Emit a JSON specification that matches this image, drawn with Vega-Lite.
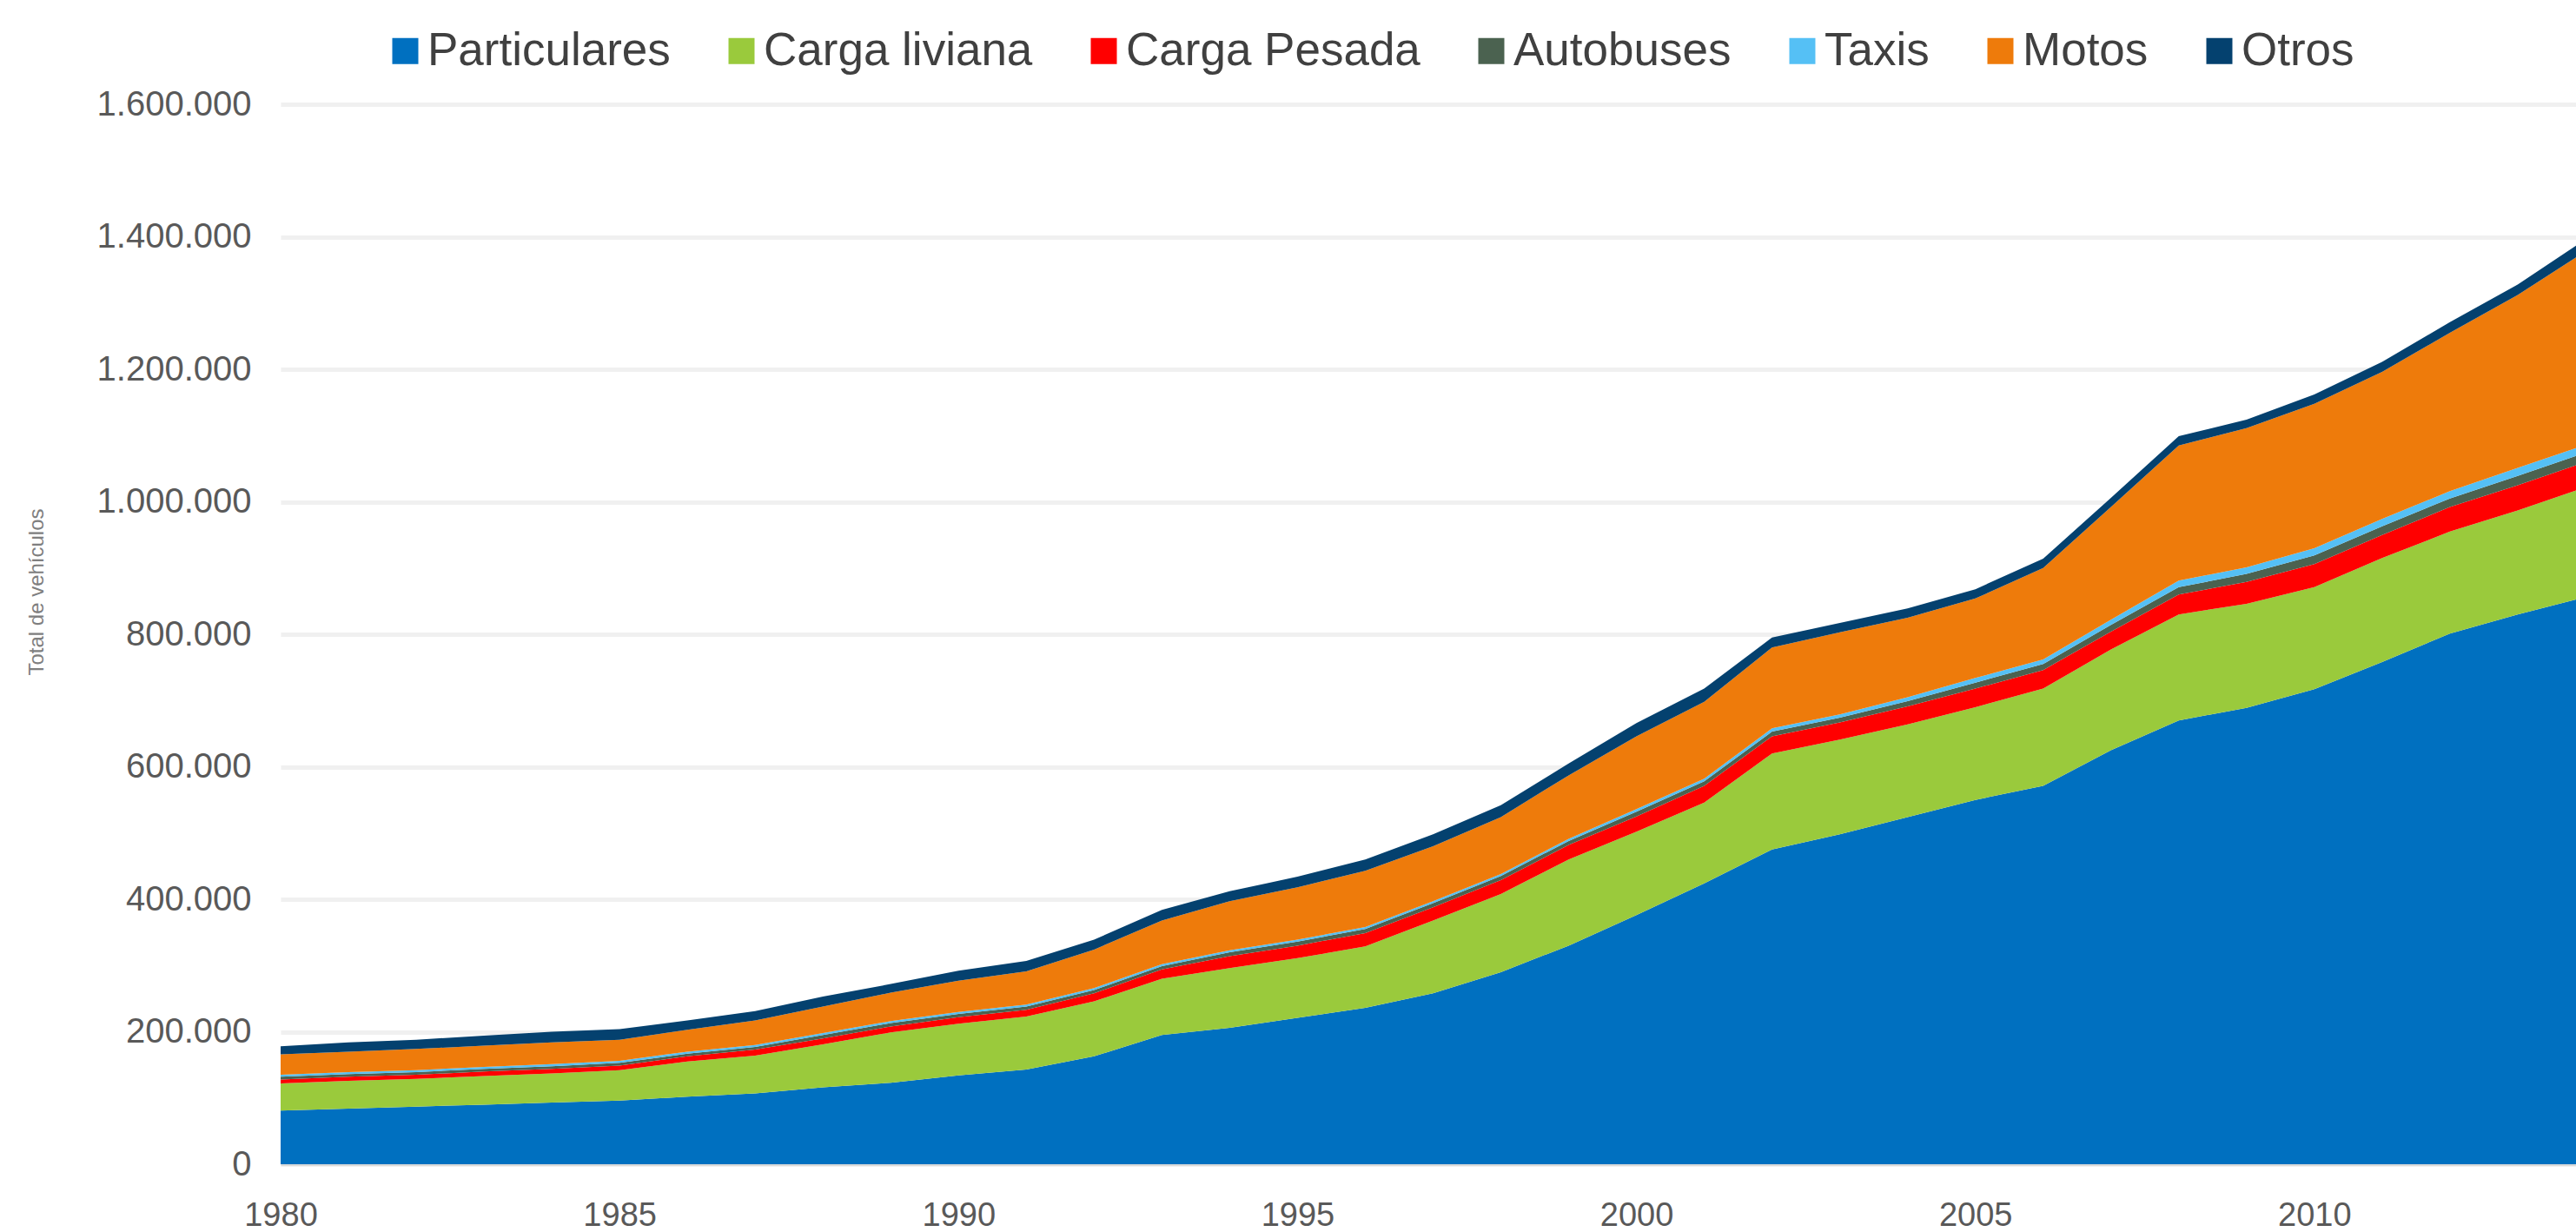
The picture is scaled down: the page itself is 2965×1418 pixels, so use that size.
{
  "$schema": "https://vega.github.io/schema/vega-lite/v6.json",
  "width": 2642,
  "height": 1220,
  "autosize": {"type": "none"},
  "padding": {"left": 323, "top": 120, "right": 0, "bottom": 78},
  "background": "white",
  "data": {
    "values": [
      {"year": 1980, "Particulares": 81000, "Carga liviana": 41000, "Carga Pesada": 6000, "Autobuses": 4000, "Taxis": 3000, "Motos": 31000, "Otros": 12000},
      {"year": 1981, "Particulares": 84000, "Carga liviana": 42000, "Carga Pesada": 6000, "Autobuses": 4000, "Taxis": 3000, "Motos": 31000, "Otros": 14000},
      {"year": 1982, "Particulares": 87000, "Carga liviana": 42000, "Carga Pesada": 6000, "Autobuses": 4000, "Taxis": 3000, "Motos": 32000, "Otros": 14000},
      {"year": 1983, "Particulares": 90000, "Carga liviana": 43000, "Carga Pesada": 7000, "Autobuses": 4000, "Taxis": 3000, "Motos": 32000, "Otros": 15000},
      {"year": 1984, "Particulares": 93000, "Carga liviana": 44000, "Carga Pesada": 7000, "Autobuses": 4000, "Taxis": 3000, "Motos": 33000, "Otros": 16000},
      {"year": 1985, "Particulares": 96000, "Carga liviana": 46000, "Carga Pesada": 7000, "Autobuses": 4000, "Taxis": 3000, "Motos": 32000, "Otros": 16000},
      {"year": 1986, "Particulares": 102000, "Carga liviana": 53000, "Carga Pesada": 8000, "Autobuses": 4000, "Taxis": 3000, "Motos": 33000, "Otros": 14000},
      {"year": 1987, "Particulares": 107000, "Carga liviana": 57000, "Carga Pesada": 9000, "Autobuses": 4000, "Taxis": 3000, "Motos": 37000, "Otros": 14000},
      {"year": 1988, "Particulares": 116000, "Carga liviana": 65000, "Carga Pesada": 9000, "Autobuses": 5000, "Taxis": 3000, "Motos": 40000, "Otros": 15000},
      {"year": 1989, "Particulares": 123000, "Carga liviana": 76000, "Carga Pesada": 9000, "Autobuses": 5000, "Taxis": 3000, "Motos": 43000, "Otros": 13000},
      {"year": 1990, "Particulares": 134000, "Carga liviana": 78000, "Carga Pesada": 10000, "Autobuses": 5000, "Taxis": 3000, "Motos": 47000, "Otros": 15000},
      {"year": 1991, "Particulares": 143000, "Carga liviana": 80000, "Carga Pesada": 10000, "Autobuses": 5000, "Taxis": 3000, "Motos": 50000, "Otros": 16000},
      {"year": 1992, "Particulares": 163000, "Carga liviana": 83000, "Carga Pesada": 12000, "Autobuses": 5000, "Taxis": 3000, "Motos": 58000, "Otros": 15000},
      {"year": 1993, "Particulares": 195000, "Carga liviana": 85000, "Carga Pesada": 14000, "Autobuses": 5000, "Taxis": 3000, "Motos": 66000, "Otros": 16000},
      {"year": 1994, "Particulares": 206000, "Carga liviana": 90000, "Carga Pesada": 18000, "Autobuses": 6000, "Taxis": 3000, "Motos": 74000, "Otros": 15000},
      {"year": 1995, "Particulares": 221000, "Carga liviana": 90000, "Carga Pesada": 19000, "Autobuses": 6000, "Taxis": 3000, "Motos": 79000, "Otros": 16000},
      {"year": 1996, "Particulares": 236000, "Carga liviana": 93000, "Carga Pesada": 20000, "Autobuses": 6000, "Taxis": 3000, "Motos": 85000, "Otros": 17000},
      {"year": 1997, "Particulares": 258000, "Carga liviana": 110000, "Carga Pesada": 20000, "Autobuses": 6000, "Taxis": 3000, "Motos": 83000, "Otros": 18000},
      {"year": 1998, "Particulares": 290000, "Carga liviana": 118000, "Carga Pesada": 21000, "Autobuses": 6000, "Taxis": 3000, "Motos": 86000, "Otros": 18000},
      {"year": 1999, "Particulares": 330000, "Carga liviana": 130000, "Carga Pesada": 22000, "Autobuses": 6000, "Taxis": 3000, "Motos": 96000, "Otros": 18000},
      {"year": 2000, "Particulares": 376000, "Carga liviana": 126000, "Carga Pesada": 23000, "Autobuses": 7000, "Taxis": 4000, "Motos": 110000, "Otros": 20000},
      {"year": 2001, "Particulares": 424000, "Carga liviana": 122000, "Carga Pesada": 25000, "Autobuses": 7000, "Taxis": 4000, "Motos": 116000, "Otros": 20000},
      {"year": 2002, "Particulares": 475000, "Carga liviana": 145000, "Carga Pesada": 26000, "Autobuses": 7000, "Taxis": 5000, "Motos": 122000, "Otros": 15000},
      {"year": 2003, "Particulares": 498000, "Carga liviana": 143000, "Carga Pesada": 26000, "Autobuses": 7000, "Taxis": 5000, "Motos": 124000, "Otros": 14000},
      {"year": 2004, "Particulares": 524000, "Carga liviana": 140000, "Carga Pesada": 27000, "Autobuses": 8000, "Taxis": 6000, "Motos": 120000, "Otros": 14000},
      {"year": 2005, "Particulares": 550000, "Carga liviana": 140000, "Carga Pesada": 28000, "Autobuses": 9000, "Taxis": 7000, "Motos": 120000, "Otros": 14000},
      {"year": 2006, "Particulares": 571000, "Carga liviana": 147000, "Carga Pesada": 28000, "Autobuses": 9000, "Taxis": 7000, "Motos": 138000, "Otros": 14000},
      {"year": 2007, "Particulares": 625000, "Carga liviana": 152000, "Carga Pesada": 27000, "Autobuses": 10000, "Taxis": 8000, "Motos": 170000, "Otros": 14000},
      {"year": 2008, "Particulares": 670000, "Carga liviana": 160000, "Carga Pesada": 30000, "Autobuses": 11000, "Taxis": 10000, "Motos": 204000, "Otros": 14000},
      {"year": 2009, "Particulares": 689000, "Carga liviana": 157000, "Carga Pesada": 33000, "Autobuses": 12000, "Taxis": 10000, "Motos": 210000, "Otros": 13000},
      {"year": 2010, "Particulares": 717000, "Carga liviana": 154000, "Carga Pesada": 35000, "Autobuses": 13000, "Taxis": 11000, "Motos": 218000, "Otros": 14000},
      {"year": 2011, "Particulares": 758000, "Carga liviana": 157000, "Carga Pesada": 35000, "Autobuses": 13000, "Taxis": 11000, "Motos": 222000, "Otros": 15000},
      {"year": 2012, "Particulares": 801000, "Carga liviana": 154000, "Carga Pesada": 37000, "Autobuses": 13000, "Taxis": 11000, "Motos": 239000, "Otros": 16000},
      {"year": 2013, "Particulares": 830000, "Carga liviana": 157000, "Carga Pesada": 38000, "Autobuses": 14000, "Taxis": 12000, "Motos": 261000, "Otros": 16000},
      {"year": 2014, "Particulares": 856000, "Carga liviana": 166000, "Carga Pesada": 38000, "Autobuses": 14000, "Taxis": 12000, "Motos": 292000, "Otros": 18000}
    ]
  },
  "transform": [
    {"fold": ["Particulares", "Carga liviana", "Carga Pesada", "Autobuses", "Taxis", "Motos", "Otros"], "as": ["tipo", "vehiculos"]},
    {"calculate": "indexof(['Particulares','Carga liviana','Carga Pesada','Autobuses','Taxis','Motos','Otros'], datum.tipo)", "as": "orden"}
  ],
  "mark": {"type": "area", "clip": true, "interpolate": "linear"},
  "encoding": {
    "x": {
      "field": "year",
      "type": "quantitative",
      "scale": {"domain": [1980, 2013.86], "nice": false, "zero": false},
      "axis": {
        "title": null,
        "values": [1980, 1985, 1990, 1995, 2000, 2005, 2010],
        "format": "d",
        "labelFont": "Liberation Sans",
        "labelFontSize": 38,
        "labelColor": "#595959",
        "labelPadding": 40,
        "labelFlush": false,
        "labelOverlap": false,
        "ticks": false,
        "tickSize": 0,
        "domain": true,
        "domainColor": "#d9d9d9",
        "domainWidth": 3,
        "grid": false
      }
    },
    "y": {
      "field": "vehiculos",
      "type": "quantitative",
      "stack": "zero",
      "scale": {"domain": [0, 1600000], "nice": false},
      "axis": {
        "title": "Total de vehículos",
        "values": [0, 200000, 400000, 600000, 800000, 1000000, 1200000, 1400000, 1600000],
        "labelExpr": "replace(replace(format(datum.value, ','), ',', '.'), ',', '.')",
        "labelFont": "Liberation Sans",
        "labelFontSize": 40,
        "labelColor": "#595959",
        "labelPadding": 34,
        "labelOverlap": false,
        "ticks": false,
        "tickSize": 0,
        "domain": false,
        "grid": true,
        "gridColor": "#f0f0f0",
        "gridWidth": 5,
        "titleFont": "Liberation Sans",
        "titleFontSize": 24,
        "titleFontWeight": "normal",
        "titleColor": "#7f7f7f",
        "titleAngle": -90,
        "titleX": -281,
        "titleY": 561,
        "titleAlign": "center",
        "titleBaseline": "middle"
      }
    },
    "color": {
      "field": "tipo",
      "type": "nominal",
      "scale": {
        "domain": ["Particulares", "Carga liviana", "Carga Pesada", "Autobuses", "Taxis", "Motos", "Otros"],
        "range": ["#0070C0", "#9ACA3C", "#FF0000", "#4B6250", "#55C0F5", "#EE7B0B", "#04416F"]
      },
      "legend": {
        "title": null,
        "orient": "none",
        "legendX": 117,
        "legendY": -88,
        "direction": "horizontal",
        "symbolType": "square",
        "symbolSize": 900,
        "symbolStrokeWidth": 0,
        "symbolOpacity": 1,
        "labelFont": "Liberation Sans",
        "labelFontSize": 53,
        "labelLimit": 0,
        "labelColor": "#404040",
        "labelOffset": -1,
        "columnPadding": 55,
        "padding": 0
      }
    },
    "order": {"field": "orden", "type": "quantitative"}
  },
  "config": {"view": {"stroke": null}, "font": "Liberation Sans"}
}
